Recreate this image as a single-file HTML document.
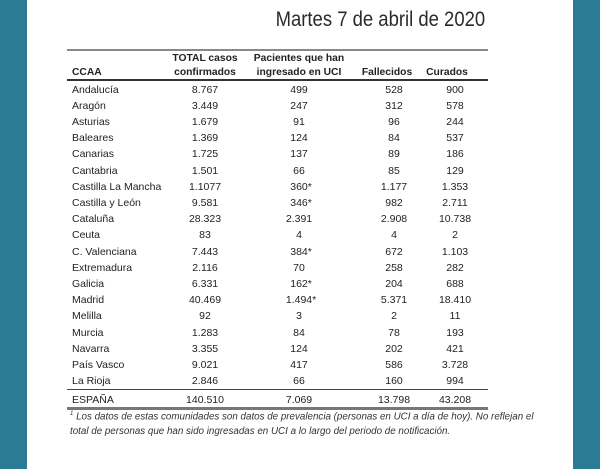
<!DOCTYPE html>
<html><head><meta charset="utf-8"><style>
body{margin:0;width:600px;height:469px;background:#fff;position:relative;overflow:hidden;font-family:"Liberation Sans",sans-serif;color:#222}
.tl{position:absolute;left:0;top:0;width:27px;height:469px;background:#2a7b93}
.tr{position:absolute;left:573px;top:0;width:27px;height:469px;background:#2a7b93}
.title{position:absolute;right:115px;top:8px;font-size:21px;color:#2a2a2a;transform:scaleX(0.88);transform-origin:right center;white-space:nowrap}
.ln{position:absolute;left:67px;width:421px;background:#555}
.t{position:absolute;font-size:10.5px;white-space:nowrap;line-height:13px}
.h{font-weight:bold;text-align:center;transform:translateX(-50%);font-size:10.3px;line-height:14px}
.c{transform:translateX(-50%)}
.fn{position:absolute;left:70px;font-size:9.8px;font-style:italic;white-space:nowrap;color:#333}
</style></head><body>
<div class="tl"></div><div class="tr"></div>
<div class="title">Martes 7 de abril de 2020</div>
<div class="ln" style="top:49px;height:2px;background:#888"></div>
<div class="ln" style="top:79px;height:2px;background:#333"></div>
<div class="ln" style="top:389px;height:1px;background:#444"></div>
<div class="ln" style="top:407px;height:3px;background:#777"></div>
<div class="t" style="left:72px;top:66px;font-weight:bold;font-size:10.3px">CCAA</div>
<div class="t h" style="left:205px;top:52px">TOTAL casos<br>confirmados</div>
<div class="t h" style="left:299px;top:52px">Pacientes que han<br>ingresado en UCI</div>
<div class="t h" style="left:387px;top:66px">Fallecidos</div>
<div class="t h" style="left:447px;top:66px">Curados</div>
<div id="rows"></div>
<script>
var d=[["Andalucía","8.767","499","528","900"],["Aragón","3.449","247","312","578"],["Asturias","1.679","91","96","244"],["Baleares","1.369","124","84","537"],["Canarias","1.725","137","89","186"],["Cantabria","1.501","66","85","129"],["Castilla La Mancha","1.1077","360*","1.177","1.353"],["Castilla y León","9.581","346*","982","2.711"],["Cataluña","28.323","2.391","2.908","10.738"],["Ceuta","83","4","4","2"],["C. Valenciana","7.443","384*","672","1.103"],["Extremadura","2.116","70","258","282"],["Galicia","6.331","162*","204","688"],["Madrid","40.469","1.494*","5.371","18.410"],["Melilla","92","3","2","11"],["Murcia","1.283","84","78","193"],["Navarra","3.355","124","202","421"],["País Vasco","9.021","417","586","3.728"],["La Rioja","2.846","66","160","994"],["ESPAÑA","140.510","7.069","13.798","43.208"]];
var xs=[205,299,394,455],h="";
d.forEach(function(r,i){var y=(i<19?83.5+i*16.2:393.5);
h+='<div class="t" style="left:72px;top:'+y+'px">'+r[0]+'</div>';
for(var j=1;j<5;j++){var s=r[j],star=s.slice(-1)=="*";if(star)s=s.slice(0,-1);
h+='<div class="t c" style="left:'+xs[j-1]+'px;top:'+y+'px">'+s+(star?'<span style="position:absolute">*</span>':'')+'</div>';}});
document.getElementById("rows").innerHTML=h;
</script>
<div class="fn" style="top:411px"><sup style="font-size:6px">1</sup> Los datos de estas comunidades son datos de prevalencia (personas en UCI a día de hoy). No reflejan el</div>
<div class="fn" style="top:426px">total de personas que han sido ingresadas en UCI a lo largo del periodo de notificación.</div>
</body></html>
